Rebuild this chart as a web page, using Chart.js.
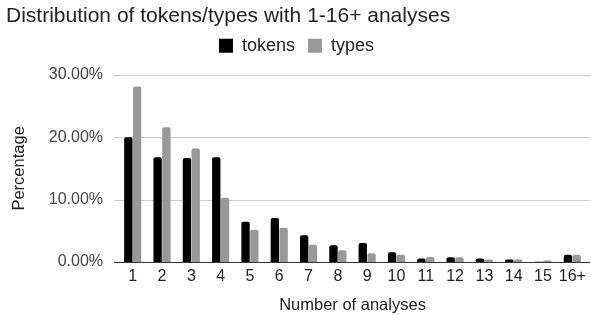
<!DOCTYPE html>
<html><head><meta charset="utf-8">
<script src="https://cdn.jsdelivr.net/npm/chart.js@4"></script>
<style>html,body{margin:0;padding:0;background:#fff}#wrap{width:591px;height:315px}</style>
</head><body><div id="wrap"><canvas id="c" width="591" height="315"></canvas></div>
<script>
const categories = ['1','2','3','4','5','6','7','8','9','10','11','12','13','14','15','16+'];
const tokens = [20.0,16.8,16.65,16.8,6.45,7.05,4.3,2.7,3.05,1.55,0.57,0.78,0.57,0.4,0.05,1.15];
const types = [28.1,21.6,18.2,10.3,5.15,5.5,2.75,1.9,1.4,1.15,0.8,0.78,0.4,0.4,0.25,1.15];
const yTicks = [0,10,20,30];
const F = "'Liberation Sans', Arial, sans-serif";

const gridPlugin = {
  id:'extGrid',
  beforeDatasetsDraw(chart){
    const {ctx, chartArea:a, scales:{y}} = chart;
    ctx.save();
    ctx.lineWidth = 1;
    yTicks.forEach(v=>{
      const py = Math.round(y.getPixelForValue(v)) + 0.5;
      ctx.strokeStyle = v===0 ? '#333333' : '#cccccc';
      ctx.beginPath(); ctx.moveTo(a.left-4, py); ctx.lineTo(a.right+3, py); ctx.stroke();
    });
    ctx.restore();
  },
  afterDatasetsDraw(chart){
    const {ctx, chartArea:a, scales:{y}} = chart;
    const py = Math.round(y.getPixelForValue(0)) + 0.5;
    ctx.save(); ctx.strokeStyle='#333333'; ctx.lineWidth=1;
    ctx.beginPath(); ctx.moveTo(a.left-4, py); ctx.lineTo(a.right+3, py); ctx.stroke();
    ctx.restore();
  }
};

new Chart(document.getElementById('c'), {
  type: 'bar',
  data: {
    labels: categories,
    datasets: [
      {label:'tokens', data: tokens, backgroundColor:'#000000', borderRadius:2, borderSkipped:'bottom', categoryPercentage:0.6, barPercentage:0.95},
      {label:'types', data: types, backgroundColor:'#999999', borderRadius:2, borderSkipped:'bottom', categoryPercentage:0.6, barPercentage:0.95}
    ]
  },
  options: {
    responsive:false, animation:false,
    layout:{padding:{left:6,right:4,top:0,bottom:0}},
    plugins:{
      title:{display:true, text:'Distribution of tokens/types with 1-16+ analyses', align:'start',
        color:'#222', font:{family:F,size:21,weight:'normal',lineHeight:0.75}, padding:{top:8,bottom:0}},
      legend:{display:true, position:'top', align:'center',
        labels:{color:'#222', font:{family:F,size:18}, boxWidth:14, boxHeight:14, padding:13}},
      tooltip:{enabled:false}
    },
    scales:{
      x:{
        grid:{display:false, drawTicks:false}, border:{display:false},
        ticks:{color:'#222', font:{family:F,size:16}, padding:5, maxRotation:0, autoSkip:false},
        title:{display:true, text:'Number of analyses', color:'#222', font:{family:F,size:16.5}, padding:{top:4,bottom:0}}
      },
      xTop:{
        type:'category', position:'top', display:true,
        grid:{display:false, drawTicks:false}, border:{display:false},
        ticks:{display:false},
        afterFit:(s)=>{ s.height = 10; }
      },
      y:{
        min:0, max:30,
        afterBuildTicks:(s)=>{s.ticks = yTicks.map(v=>({value:v}));},
        grid:{display:false, drawTicks:false},
        border:{display:false},
        ticks:{color:'#444', font:{family:F,size:16}, padding:15, callback:(v)=>Number(v).toFixed(2)+'%'},
        title:{display:true, text:'Percentage', color:'#222', font:{family:F,size:16.5}, padding:{bottom:4}}
      }
    }
  },
  plugins:[gridPlugin]
});
</script></body></html>
